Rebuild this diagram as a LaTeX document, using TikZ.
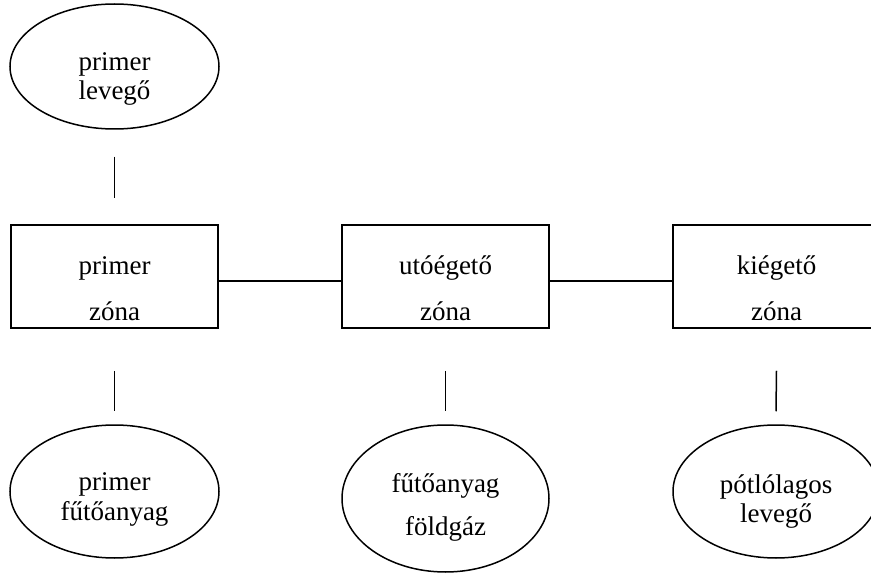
\documentclass[tikz,border=0pt]{standalone}
\usepackage{fontspec}
\setmainfont{Liberation Serif}
\usetikzlibrary{shapes.geometric}
\tikzset{
    zona/.style = {draw, minimum width = 207pt, minimum height = 103pt, inner sep = 0},
    forras/.style = {draw, ellipse, inner sep = 0},
    felirat/.style = {anchor = base, inner sep = 0, font = \fontsize{27}{30}\selectfont},
}
\begin{document}
\begin{tikzpicture}[x = 1pt, y = 1pt, line width = 1.5pt]
            \useasboundingbox (0, 0) rectangle (871, 574);
            \clip (0, 0) rectangle (871, 574);
            % the three zones in a row
            \foreach \n/\x in {pz/114.5, uz/445.5, kz/776.5}{
                \node[zona] (\n) at (\x, 297.5) {};
            }
            % what goes into them, as ellipses
            \foreach \n/\x/\y/\w/\h in {pl/114.5/507.5/209/125, pf/114.5/82.5/209/133, fa/445.5/75.5/207/147, pt/776/82.5/206/133}{
                \node[forras, minimum width = \w pt, minimum height = \h pt] (\n) at (\x, \y) {};
            }
            % two lines of text in each shape
            \foreach \n/\x/\ya/\yb/\la/\lb in {pl/114.5/503/474/primer/levegő, pz/114.5/299/254/primer/zóna, uz/445.5/299/254/utóégető/zóna, kz/776.5/299/254/kiégető/zóna, pf/114.5/84/54/primer/fűtőanyag, fa/445.5/82/39/fűtőanyag/földgáz, pt/776/81/52/pótlólagos/levegő}{
                \node[felirat] (\n-a) at (\x, \ya) {\la};
                \node[felirat] (\n-b) at (\x, \yb) {\lb};
            }
            % the connectors, with gaps at the ellipses
            \draw ([yshift = -27pt]pl.south) -- ([yshift = 26pt]pz.north);
            \foreach \a/\b in {pz/uz, uz/kz}{
                \draw ([yshift = -4.5pt]\a.east) -- ([yshift = -4.5pt]\b.west);
            }
            \foreach \a/\b in {pz/pf, uz/fa, kz/pt}{
                \draw ([yshift = -42pt]\a.south) -- ([yshift = 13pt]\b.north);
            }
        \end{tikzpicture}
\end{document}
